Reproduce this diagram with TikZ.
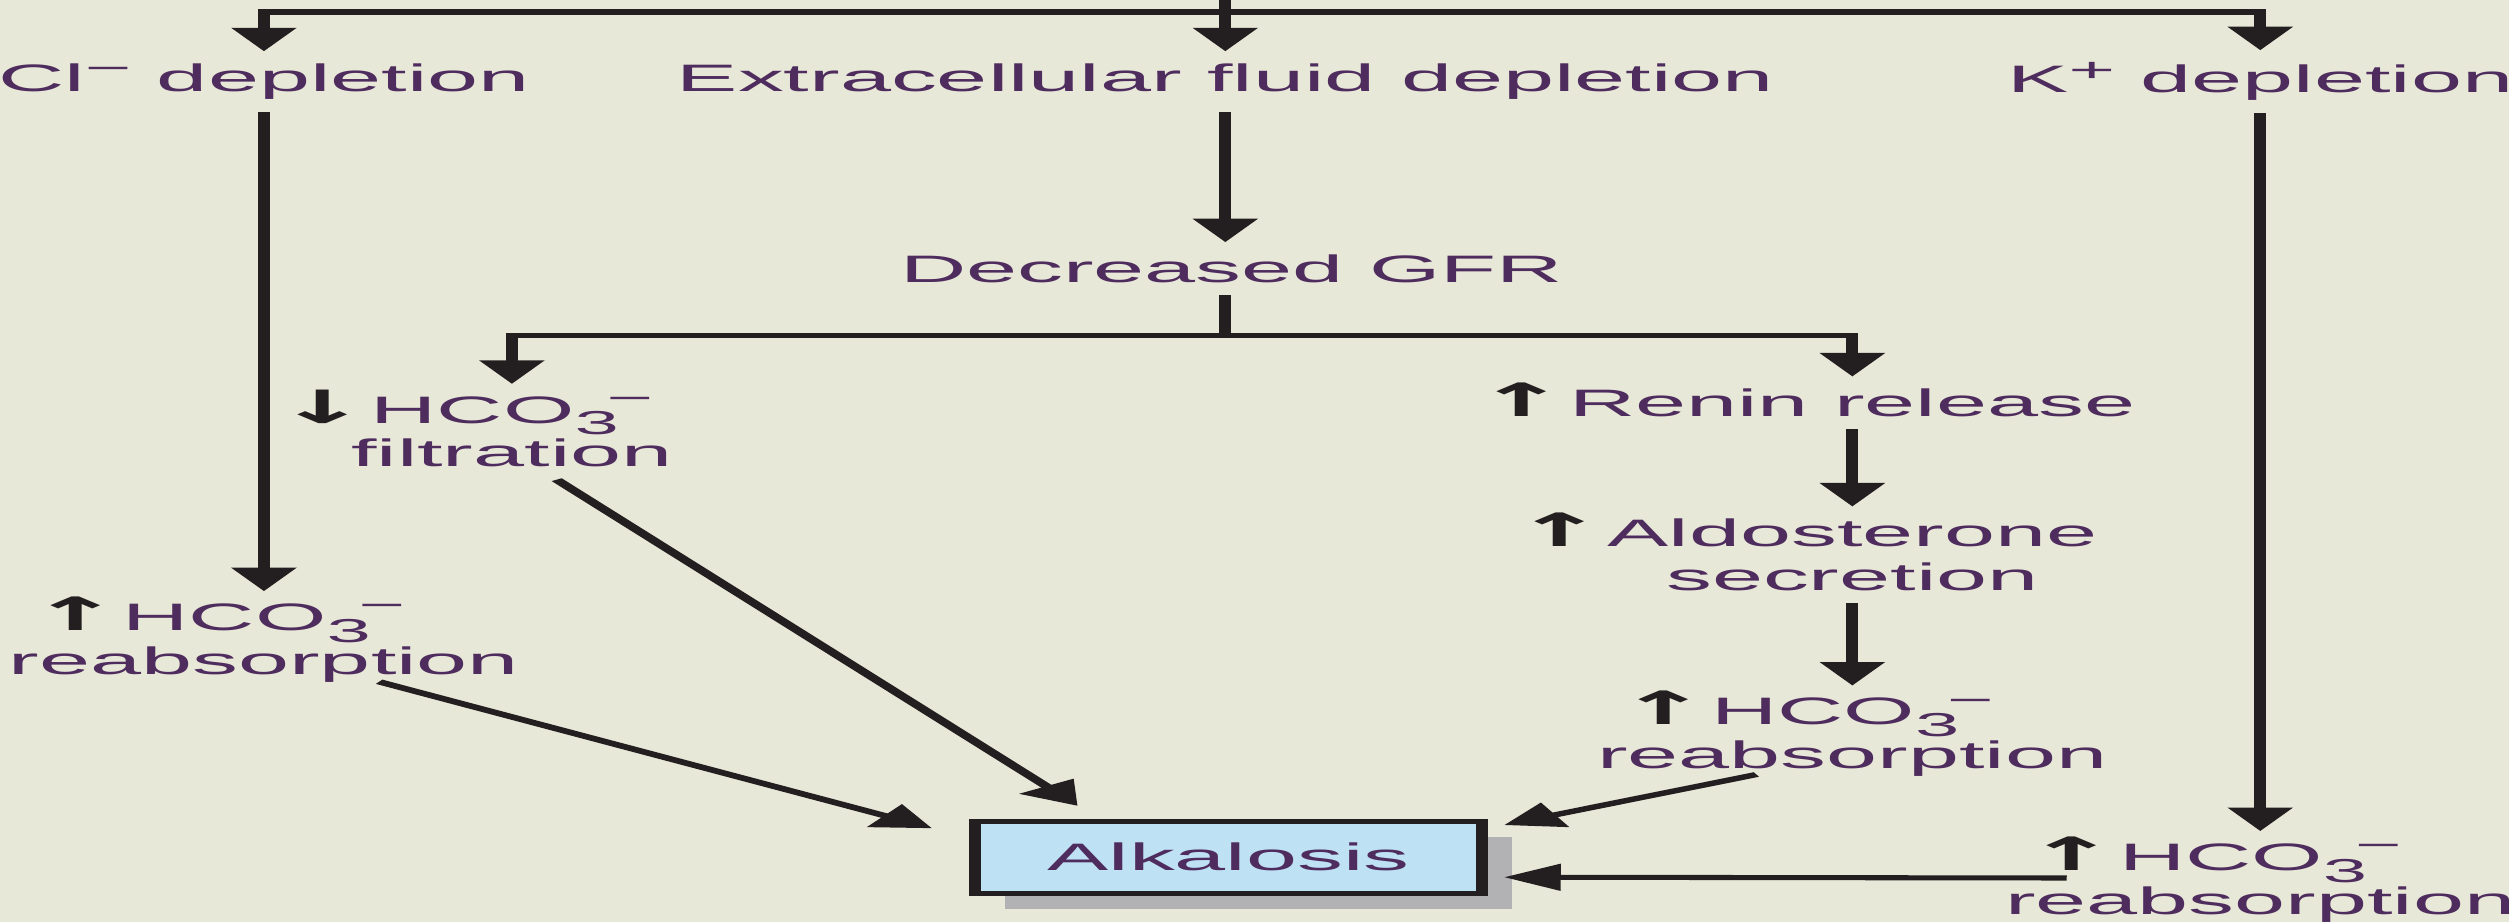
\documentclass[tikz,border=0pt]{standalone}
\usepackage{fontspec}
\setmainfont{Liberation Sans}
\newfontfamily\arrowfont{DejaVu Sans}
\usetikzlibrary{arrows.meta,shadows}

\definecolor{bgcol}{HTML}{E7E8D8}
\definecolor{inkcol}{HTML}{231F20}
\definecolor{txtcol}{HTML}{4F2C5E}
\definecolor{boxcol}{HTML}{BEE2F4}
\definecolor{shadcol}{HTML}{B2B2B5}

\newcommand{\subsz}{\fontsize{5.9}{6.5}\selectfont}
\newcommand{\hco}{HCO\raisebox{-2.1pt}{\subsz 3}\kern-0.9pt\raisebox{2.4pt}{\subsz −}}
\newcommand{\uparr}{\llap{\smash{\scalebox{1.2}{\color{inkcol}\arrowfont\bfseries ↑}}\kern0.1pt}}
\newcommand{\downarr}{\llap{\smash{\scalebox{1.2}{\color{inkcol}\arrowfont\bfseries ↓}}\kern0.1pt}}

\begin{document}
\begin{tikzpicture}

  % page and its background
  \fill[bgcol] (0,0) rectangle (15.68,-5.76);
  \useasboundingbox (0,0) rectangle (15.68,-5.76);

  \begin{scope}[transform canvas={xscale=2.4}, x=0.0041667cm, y=-0.01cm,
    lbl/.style={text=txtcol, font=\fontsize{6.8}{7.8}\selectfont, align=center,
      inner xsep=1pt, inner ysep=2pt},
    ln/.style={draw=inkcol, line width=0.9pt},
    arr/.style={ln, -{Triangle[width=4.6pt,length=4.2pt]}}]

  % draw the labels with nodes
  \node[lbl] (cl) at (165,51) {Cl\raisebox{2.2pt}{\subsz −} depletion};
  \node[lbl] (ecf) at (766,51) {Extracellular fluid depletion};
  \node[lbl] (kdep) at (1413,51) {K\raisebox{1.9pt}{\subsz +} depletion};
  \node[lbl] (gfr) at (770,168) {Decreased GFR};
  \node[lbl] (filt) at (320,270) {\downarr\hco\\filtration};
  \node[lbl] (renin) at (1158,252) {\uparr Renin release};
  \node[lbl] (aldo) at (1158,347) {\uparr Aldosterone\\secretion};
  \node[lbl] (reabsR) at (1158,461) {\uparr\hco\\reabsorption};
  \node[lbl] (reabsL) at (165,402) {\uparr\hco\\reabsorption};
  \node[lbl] (reabsBR) at (1413,552) {\uparr\hco\\reabsorption};
  \node[lbl, draw=inkcol, line width=0.9pt, fill=boxcol, inner sep=0pt,
    minimum width=1.32cm, minimum height=0.45cm,
    drop shadow={shadow xshift=0.079cm, shadow yshift=-0.1cm, fill=shadcol, opacity=1}]
    (alk) at (768,536) {Alkalosis};

  % feed line along the top
  \coordinate (feed) at (766,0);
  \coordinate (bar) at (766,7.5);
  \draw[arr] (feed) -- (ecf);
  \draw[arr] (bar) -| (cl);
  \draw[arr] (bar) -| (kdep);

  % GFR branch
  \draw[arr] (ecf.south) -- (ecf.south |- gfr.north);
  \coordinate (split) at (766,210);
  \draw[ln] (split |- gfr.south) -- (split);
  \draw[arr] (split) -| (filt);
  \draw[arr] (split) -| (renin);

  \foreach \a/\b in {renin/aldo, aldo/reabsR, cl/reabsL, kdep/reabsBR} {
    \draw[arr] (\a) -- (\b);
  };

  % everything ends in the box
  \draw[arr] ([shift={(72,-8)}]reabsL.south) -- ([shift={(-23,6)}]alk.north west);
  \draw[arr] ([shift={(28,0)}]filt.south) -- ([shift={(68,-8)}]alk.north west);
  \draw[arr] ([shift={(-60,-9)}]reabsR.south) -- ([shift={(10,4)}]alk.north east);
  \draw[arr] ([shift={(-121,-3)}]reabsBR.center) -- ([shift={(10,12.5)}]alk.east);

  \end{scope}

\end{tikzpicture}
\end{document}
